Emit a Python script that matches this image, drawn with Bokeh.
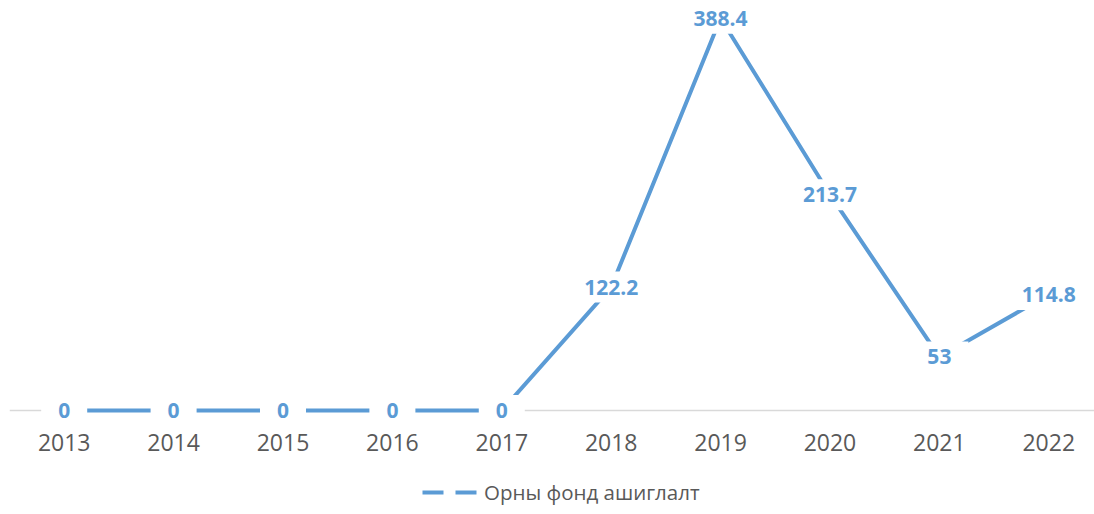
from bokeh.plotting import figure
from bokeh.models import Range1d, Span, Legend, LegendItem, FixedTicker, NumeralTickFormatter, ColumnDataSource
from bokeh.core.properties import value
from bokeh.embed import file_html
from bokeh.resources import INLINE

years = [2013, 2014, 2015, 2016, 2017, 2018, 2019, 2020, 2021, 2022]
values = [0, 0, 0, 0, 0, 122.2, 388.4, 213.7, 53, 114.8]
labels = ["0", "0", "0", "0", "0", "122.2", "388.4", "213.7", "53", "114.8"]
series_name = "Орны фонд ашиглалт"

BLUE = "#5B9BD5"
GRAY_TXT = "#595959"
FONT = "Open Sans"

src = ColumnDataSource(dict(x=years, y=values, t=labels))

# frame covers the whole canvas; the category axis is pinned at y = 0
p = figure(width=1094, height=514, output_backend="svg", toolbar_location=None,
           x_range=Range1d(years[0] - 0.5, years[0] - 0.5 + 9.918),
           y_range=Range1d(-103, 406), y_axis_location=None,
           min_border_left=9, min_border_right=0, min_border_top=0, min_border_bottom=0)
p.outline_line_color = None
p.xgrid.visible = False
p.ygrid.visible = False
p.background_fill_color = "white"
p.border_fill_color = "white"

base = Span(location=0, dimension="width", line_color="#D9D9D9", line_width=1.5, level="underlay")
p.add_layout(base)

line = p.line("x", "y", source=src, line_color=BLUE, line_width=4)
legend_line = p.line(x=[years[0]], y=[-1000], line_color=BLUE, line_width=4, line_dash="21 12")

p.text("x", "y", text="t", source=src, text_font=value(FONT), text_font_style="bold",
       text_font_size="21px", text_color=BLUE, text_align="center", text_baseline="middle",
       background_fill_color="white",
       padding=dict(left=17, right=17, top=8, bottom=8))

ax = p.xaxis[0]
ax.fixed_location = 0
ax.ticker = FixedTicker(ticks=years)
ax.formatter = NumeralTickFormatter(format="0")
ax.axis_line_color = None
ax.major_tick_line_color = None
ax.minor_tick_line_color = None
ax.major_label_text_font = FONT
ax.major_label_text_font_size = "23px"
ax.major_label_text_color = GRAY_TXT
ax.major_label_standoff = 18

legend = Legend(items=[LegendItem(label=series_name, renderers=[legend_line])],
                orientation="horizontal", location=(413, 8),
                border_line_color=None, background_fill_alpha=0,
                label_text_font=FONT, label_text_font_size="20.5px", label_text_color=GRAY_TXT,
                glyph_width=55, glyph_height=18, label_height=18, label_standoff=7,
                padding=0, margin=0)
p.add_layout(legend, "center")

open("out.html", "w").write(file_html(p, INLINE))
